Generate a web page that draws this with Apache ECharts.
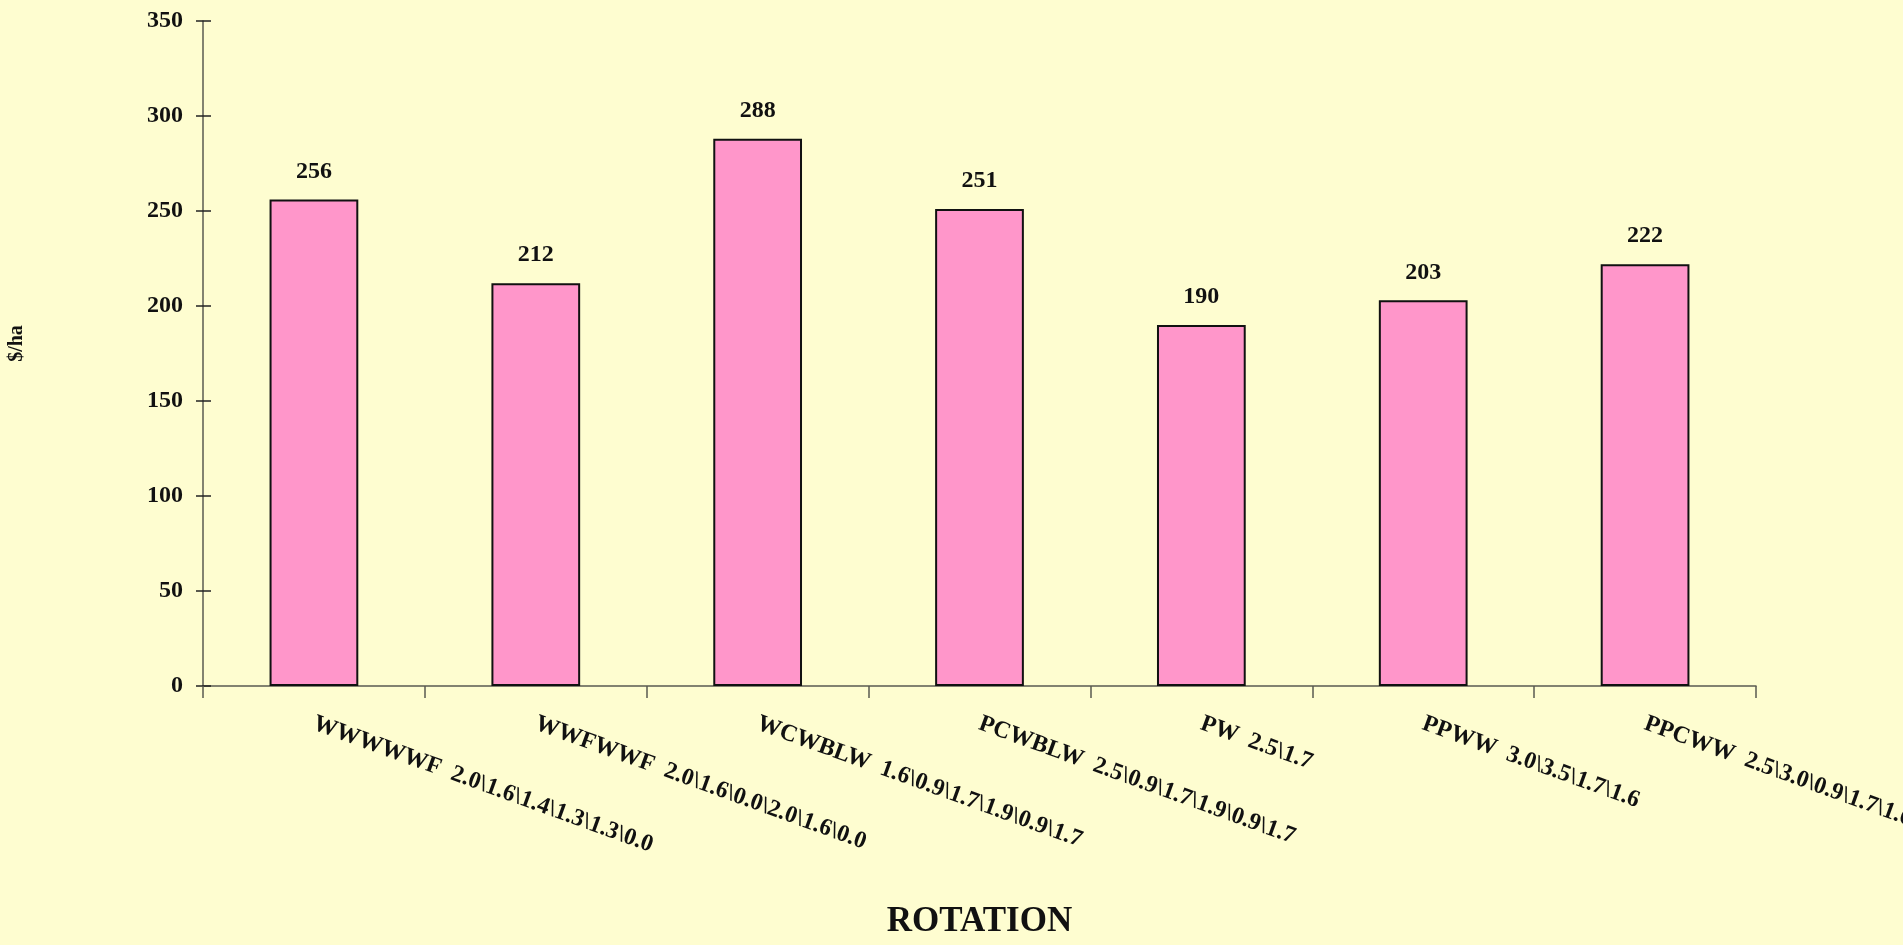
<!DOCTYPE html>
<html>
<head>
<meta charset="utf-8">
<title>Rotation $/ha</title>
<script src="https://cdn.jsdelivr.net/npm/echarts@6/dist/echarts.min.js"></script>
<style>
  html, body { margin: 0; padding: 0; background: #FEFDD0; }
  #chart { width: 1903px; height: 945px; }
</style>
</head>
<body>
<div id="chart"></div>
<script>
// rotation names + yearly values
const rotations = [
  'WWWWWF  2.0\\1.6\\1.4\\1.3\\1.3\\0.0',
  'WWFWWF  2.0\\1.6\\0.0\\2.0\\1.6\\0.0',
  'WCWBLW  1.6\\0.9\\1.7\\1.9\\0.9\\1.7',
  'PCWBLW  2.5\\0.9\\1.7\\1.9\\0.9\\1.7',
  'PW  2.5\\1.7',
  'PPWW  3.0\\3.5\\1.7\\1.6',
  'PPCWW  2.5\\3.0\\0.9\\1.7\\1.6'
]
const returns = [256, 212, 288, 251, 190, 203, 222]
const yTicks = [0, 50, 100, 150, 200, 250, 300, 350]

const font = '"Liberation Serif", "Times New Roman", serif'
const axisColor = '#5a5a50'

let chart = echarts.init(document.getElementById('chart'))

const option = {
  backgroundColor: '#FEFDD0',
  animation: false,
  // keep the plot where it is even if the last label runs off the page
  grid: { left: 203, right: 147, top: 21, bottom: 259, outerBoundsMode: 'none', containLabel: false },
  xAxis: {
    type: 'category',
    data: rotations,
    name: 'ROTATION',
    nameLocation: 'middle',
    nameGap: 218,
    nameTextStyle: { fontFamily: font, fontWeight: 'bold', fontSize: 35, color: '#111' },
    axisLine: { lineStyle: { color: axisColor, width: 1.5 } },
    axisTick: { show: true, length: 12, lineStyle: { color: axisColor, width: 1.5 } },
    axisLabel: {
      interval: 0,
      rotate: -20,
      margin: 37,
      fontFamily: font,
      fontWeight: 'bold',
      fontSize: 24,
      color: '#111'
    }
  },
  yAxis: [
    {
      type: 'value',
      position: 'left',
      min: yTicks[0],
      max: yTicks[yTicks.length - 1],
      interval: 50,
      name: '$/ha',
      nameLocation: 'middle',
      nameGap: 176,
      nameRotate: 90,
      nameTextStyle: { fontFamily: font, fontWeight: 'bold', fontSize: 20, color: '#111', padding: [0, 0, 0, 20] },
      splitLine: { show: false },
      axisLine: { show: true, lineStyle: { color: axisColor, width: 1.5 } },
      axisTick: { show: true, length: 7, lineStyle: { color: '#222', width: 1.5 } },
      axisLabel: { margin: 20, fontFamily: font, fontWeight: 'bold', fontSize: 24, color: '#111' }
    },
    {
      // second copy just to get the ticks crossing to the inside
      type: 'value',
      position: 'left',
      min: yTicks[0],
      max: yTicks[yTicks.length - 1],
      interval: 50,
      splitLine: { show: false },
      axisLine: { show: false },
      axisLabel: { show: false },
      axisTick: { show: true, inside: true, length: 8, lineStyle: { color: '#222', width: 1.5 } }
    }
  ],
  series: [
    {
      type: 'bar',
      data: returns,
      barWidth: '40%',
      itemStyle: { color: '#FF96CA', borderColor: '#111', borderWidth: 2 },
      label: {
        show: true,
        position: 'top',
        distance: 16,
        fontFamily: font,
        fontWeight: 'bold',
        fontSize: 24,
        color: '#111'
      }
    }
  ]
}

chart.setOption(option)
</script>
</body>
</html>
